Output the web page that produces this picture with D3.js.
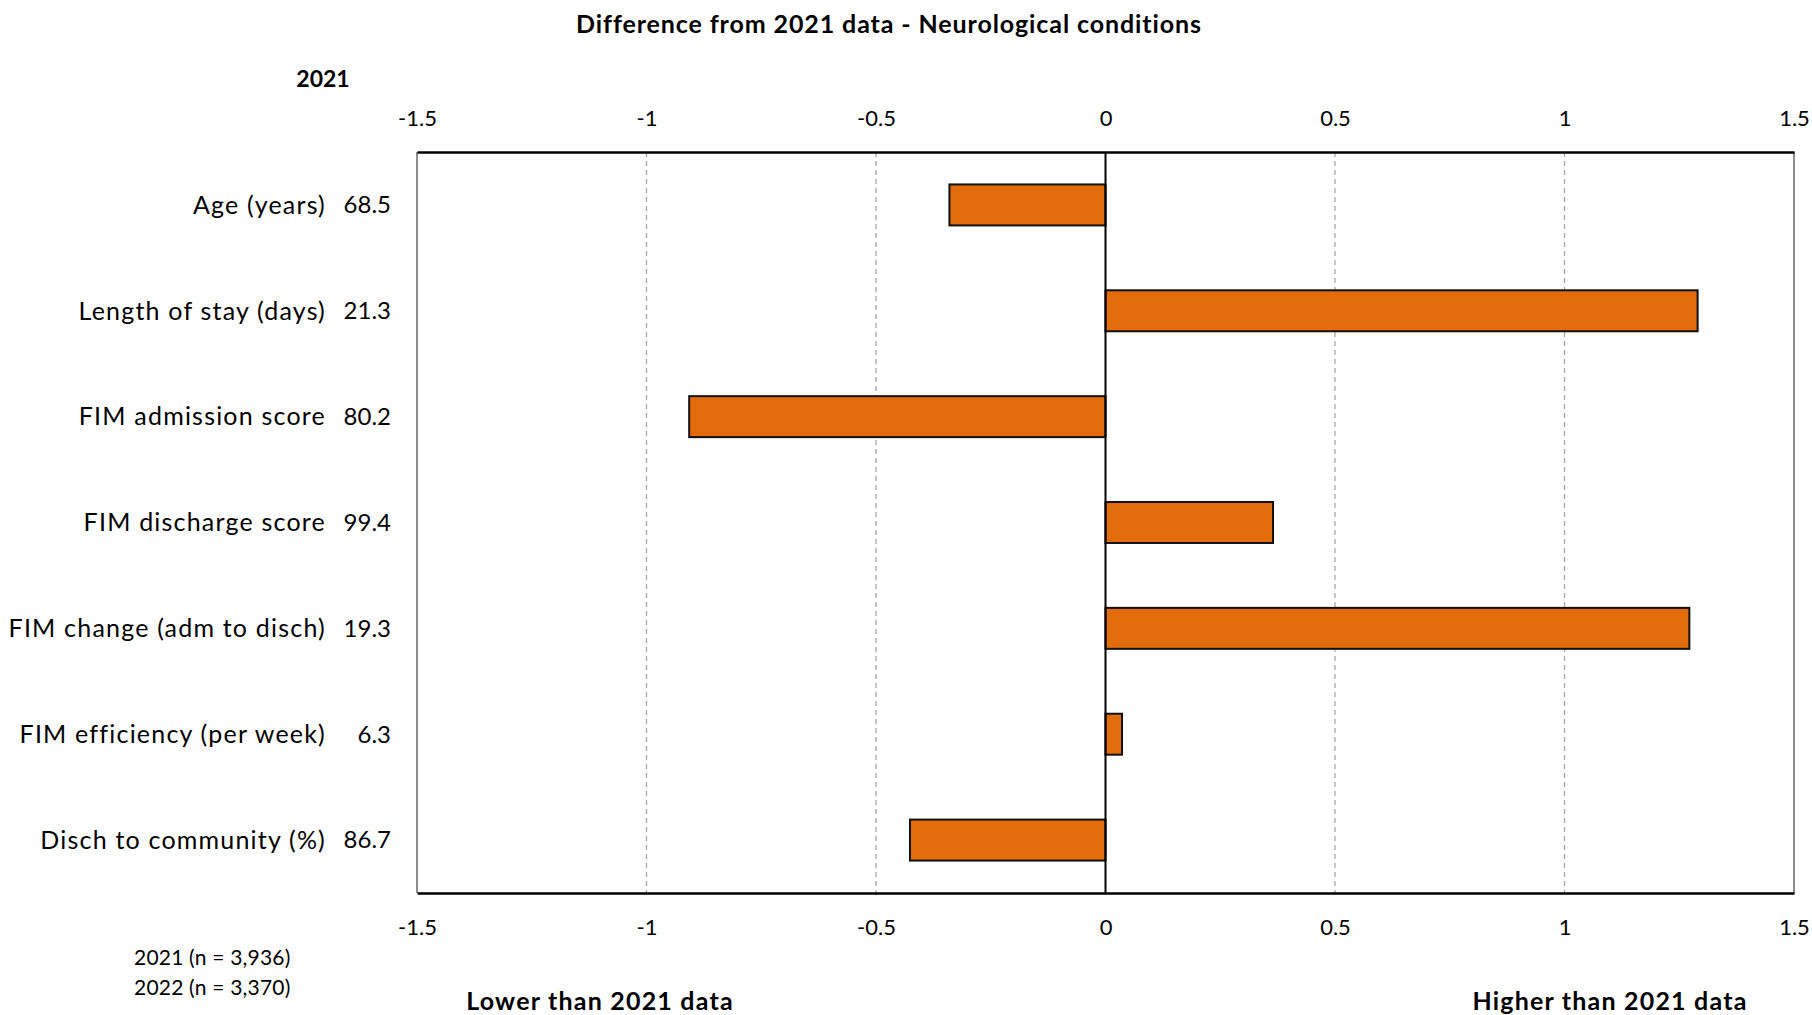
<!DOCTYPE html>
<html>
<head>
<meta charset="utf-8">
<script src="https://cdn.jsdelivr.net/npm/d3@7"></script>
<style>
  html, body { margin: 0; padding: 0; background: #fff; }
  svg { display: block; }
  text { font-family: Lato, "Noto Sans", sans-serif; fill: #000; }
</style>
</head>
<body>
<svg id="chart" width="1812" height="1015"></svg>
<script>
// ---- data ----
const categories = [
  "Age (years)",
  "Length of stay (days)",
  "FIM admission score",
  "FIM discharge score",
  "FIM change (adm to disch)",
  "FIM efficiency (per week)",
  "Disch to community (%)"
];
const values2021 = ["68.5", "21.3", "80.2", "99.4", "19.3", "6.3", "86.7"];
const differences = [-0.34, 1.29, -0.907, 0.365, 1.272, 0.036, -0.426];
const tickValues = [-1.5, -1, -0.5, 0, 0.5, 1, 1.5];
const tickLabels = ["-1.5", "-1", "-0.5", "0", "0.5", "1", "1.5"];
const titleText = "Difference from 2021 data - Neurological conditions";
const yearLabel = "2021";
const sampleNotes = ["2021 (n = 3,936)", "2022 (n = 3,370)"];
const directionLabels = ["Lower than 2021 data", "Higher than 2021 data"];

// ---- layout ----
const svg = d3.select("#chart");
const plot = { left: 417, right: 1794, top: 152, bottom: 893 };
const barColor = "#E36C0A";

const x = d3.scaleLinear().domain([-1.5, 1.5]).range([plot.left, plot.right]);
const y = d3.scaleBand().domain(categories).range([plot.top, plot.bottom]).paddingInner(0.613).paddingOuter(0.3065);

// gridlines
svg.append("g").selectAll("line")
  .data(tickValues.filter(v => v !== 0 && Math.abs(v) !== 1.5))
  .join("line")
  .attr("x1", d => x(d)).attr("x2", d => x(d))
  .attr("y1", plot.top).attr("y2", plot.bottom)
  .attr("stroke", "#a6a6a6").attr("stroke-width", 1.3)
  .attr("stroke-dasharray", "5,4");

// frame: grey sides
svg.append("line").attr("x1", plot.left).attr("x2", plot.left)
  .attr("y1", plot.top).attr("y2", plot.bottom)
  .attr("stroke", "#8c8c8c").attr("stroke-width", 2);
svg.append("line").attr("x1", plot.right).attr("x2", plot.right)
  .attr("y1", plot.top).attr("y2", plot.bottom)
  .attr("stroke", "#8c8c8c").attr("stroke-width", 2);

// bars
svg.append("g").selectAll("rect")
  .data(categories.map((c, i) => ({ c, v: differences[i] })))
  .join("rect")
  .attr("x", d => Math.min(x(0), x(d.v)))
  .attr("width", d => Math.abs(x(d.v) - x(0)))
  .attr("y", d => y(d.c))
  .attr("height", y.bandwidth())
  .attr("fill", barColor)
  .attr("stroke", "#111")
  .attr("stroke-width", 2);

// zero line
svg.append("line").attr("x1", x(0)).attr("x2", x(0))
  .attr("y1", plot.top).attr("y2", plot.bottom)
  .attr("stroke", "#000").attr("stroke-width", 2);

// top / bottom axes (black)
const fmt = d => tickLabels[tickValues.indexOf(d)];
const topAxis = svg.append("g").attr("transform", `translate(0,${plot.top})`)
  .call(d3.axisTop(x).tickValues(tickValues).tickFormat(fmt).tickSize(0).tickPadding(26));
const botAxis = svg.append("g").attr("transform", `translate(0,${plot.bottom})`)
  .call(d3.axisBottom(x).tickValues(tickValues).tickFormat(fmt).tickSize(0).tickPadding(26));
[topAxis, botAxis].forEach(a => {
  a.select(".domain").attr("stroke", "#000").attr("stroke-width", 2.5);
  a.selectAll("text").style("font-family", "Lato, 'Noto Sans', sans-serif").style("font-size", "22px").attr("fill", "#000");
});

// category labels
svg.append("g").selectAll("text")
  .data(categories)
  .join("text")
  .attr("x", 326)
  .attr("y", d => y(d) + y.bandwidth() / 2)
  .attr("dy", "0.35em")
  .attr("text-anchor", "end")
  .style("font-size", "25px")
  .style("letter-spacing", "1.2px")
  .text(d => d);

// 2021 values
svg.append("g").selectAll("text")
  .data(categories.map((c, i) => ({ c, v: values2021[i] })))
  .join("text")
  .attr("x", 391)
  .attr("y", d => y(d.c) + y.bandwidth() / 2)
  .attr("dy", "0.35em")
  .attr("text-anchor", "end")
  .style("font-size", "24px")
  .text(d => d.v);

// title
svg.append("text").attr("x", 889).attr("y", 33)
  .attr("text-anchor", "middle")
  .style("font-size", "25px").style("font-weight", "bold")
  .style("letter-spacing", "0.9px")
  .text(titleText);

// year label
svg.append("text").attr("x", 323).attr("y", 87)
  .attr("text-anchor", "middle")
  .style("font-size", "23px").style("font-weight", "bold")
  .text(yearLabel);

// sample notes
svg.append("g").selectAll("text")
  .data(sampleNotes)
  .join("text")
  .attr("x", 134)
  .attr("y", (d, i) => 965 + i * 30)
  .style("font-size", "21px")
  .style("letter-spacing", "0.2px")
  .text(d => d);

// direction labels
svg.append("text").attr("x", 600).attr("y", 1010)
  .attr("text-anchor", "middle")
  .style("font-size", "25px").style("font-weight", "bold")
  .style("letter-spacing", "1.2px")
  .text(directionLabels[0]);
svg.append("text").attr("x", 1610).attr("y", 1010)
  .attr("text-anchor", "middle")
  .style("font-size", "25px").style("font-weight", "bold")
  .style("letter-spacing", "1.2px")
  .text(directionLabels[1]);
</script>
</body>
</html>
